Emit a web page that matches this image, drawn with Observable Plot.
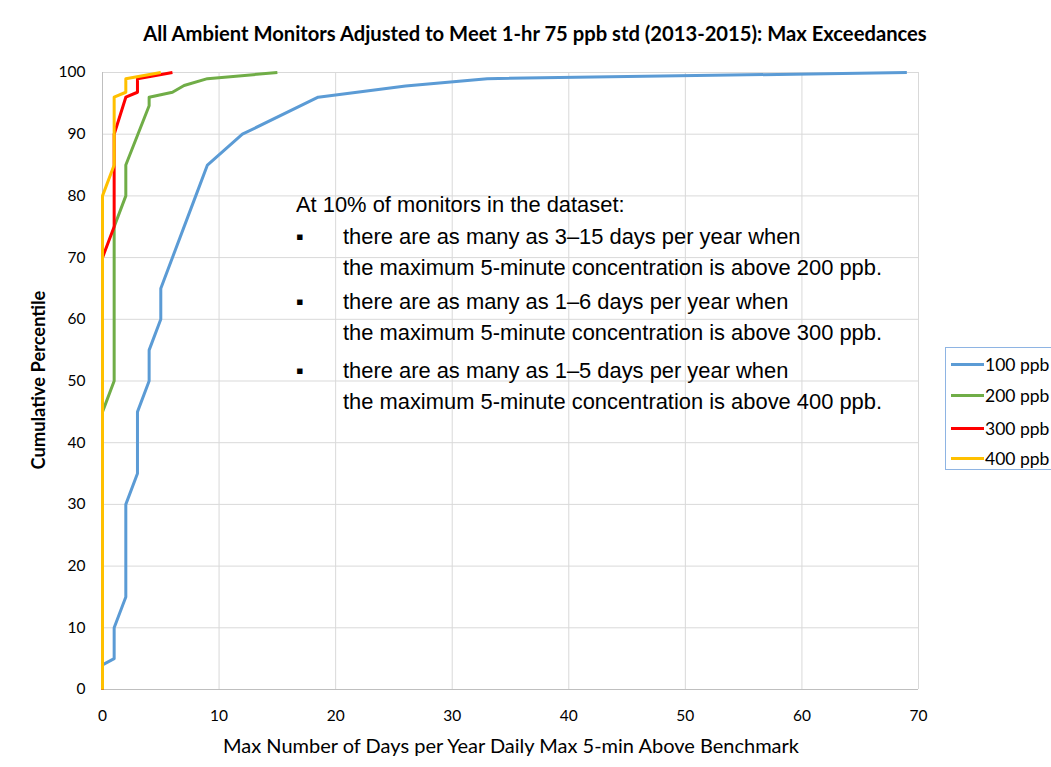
<!DOCTYPE html>
<html>
<head>
<meta charset="utf-8">
<script src="https://cdn.jsdelivr.net/npm/d3@7"></script>
<script src="https://cdn.jsdelivr.net/npm/@observablehq/plot@0.6"></script>
<style>
  html, body { margin: 0; padding: 0; background: #fff; }
  #wrap { position: relative; width: 1051px; height: 767px; overflow: hidden; font-family: Lato, "Open Sans", sans-serif; }
  #wrap svg { position: absolute; left: 0; top: 0; }
  .abs { position: absolute; white-space: nowrap; }
  #title { left: 535px; top: 33px; transform: translate(-50%, -50%); font-weight: bold; font-size: 20.2px; color: #000; }
  #xlabel { left: 511px; top: 745px; transform: translate(-50%, -50%); font-size: 20px; color: #000; }
  #ylabel { left: 38px; top: 380px; transform: translate(-50%, -50%) rotate(-90deg); font-weight: bold; font-size: 18.3px; color: #000; }
  #note { left: 296px; top: 189px; font-family: "Liberation Sans", Arial, sans-serif; font-size: 21.9px; color: #000; line-height: 31.5px; }
  #note .b { position: absolute; left: 0; }
  #note .t { padding-left: 47px; }
  #legend { left: 945px; top: 347px; width: 110px; height: 123px; border: 1px solid #8eb4e3; box-sizing: border-box; background: #fff; }
  #legend .item { position: absolute; left: 5px; height: 20px; display: flex; align-items: center; font-size: 17.5px; }
  #legend .sw { width: 33px; height: 3px; margin-right: 1px; }
</style>
</head>
<body>
<div id="wrap"></div>
<script>
// ---- data ----
const seriesNames = ["100 ppb", "200 ppb", "300 ppb", "400 ppb"];
const seriesColors = ["#5b9bd5", "#70ad47", "#ff0000", "#ffc000"];

const days100 = [0, 0, 1, 1, 2, 2, 3, 3, 4, 4, 5, 5, 8, 9, 12, 18.5, 26, 33, 69];
const pct100  = [0, 4, 5, 10, 15, 30, 35, 45, 50, 55, 60, 65, 80, 85, 90, 96, 97.8, 99, 100];

const days200 = [0, 0, 1, 1, 2, 2, 4, 4, 6, 7, 9, 15];
const pct200  = [0, 45, 50, 75, 80, 85, 94.6, 96, 96.8, 97.9, 99, 100];

const days300 = [0, 0, 1, 1, 2, 3, 3, 6];
const pct300  = [0, 70, 75, 90, 96, 96.8, 99, 100];

const days400 = [0, 0, 1, 1, 2, 2, 5];
const pct400  = [0, 80, 85, 96, 96.8, 99, 100];

const xTicks = [0, 10, 20, 30, 40, 50, 60, 70];
const yTicks = [0, 10, 20, 30, 40, 50, 60, 70, 80, 90, 100];

const titleText = "All Ambient Monitors Adjusted to Meet 1-hr 75 ppb std (2013-2015): Max Exceedances";
const xLabelText = "Max Number of Days per Year Daily Max 5-min Above Benchmark";
const yLabelText = "Cumulative Percentile";
const noteHead = "At 10% of monitors in the dataset:";
const noteBullets = [
  ["there are as many as 3–15 days per year when", "the maximum 5-minute concentration is above 200 ppb."],
  ["there are as many as 1–6 days per year when", "the maximum 5-minute concentration is above 300 ppb."],
  ["there are as many as 1–5 days per year when", "the maximum 5-minute concentration is above 400 ppb."]
];

// ---- build table ----
const allDays = [days100, days200, days300, days400];
const allPct = [pct100, pct200, pct300, pct400];
const rows = [];
seriesNames.forEach((s, i) => {
  allDays[i].forEach((d, j) => rows.push({series: s, days: d, pct: allPct[i][j]}));
});

const chart = Plot.plot({
  width: 1051,
  height: 767,
  marginLeft: 102,
  marginRight: 133,
  marginTop: 72,
  marginBottom: 78,
  style: {fontFamily: "Lato, 'Open Sans', sans-serif", fontSize: "15.5px", color: "#000", background: "transparent"},
  x: {domain: [0, 70], label: null},
  y: {domain: [0, 100], label: null},
  color: {domain: seriesNames, range: seriesColors},
  marks: [
    Plot.gridX(xTicks, {stroke: "#d9d9d9", strokeOpacity: 1}),
    Plot.gridY(yTicks, {stroke: "#d9d9d9", strokeOpacity: 1}),
    Plot.ruleX([0], {stroke: "#bfbfbf"}),
    Plot.ruleY([0], {stroke: "#bfbfbf"}),
    Plot.axisX(xTicks, {tickSize: 0, tickPadding: 20, fill: "#000"}),
    Plot.axisY(yTicks, {tickSize: 0, tickPadding: 17, fill: "#000"}),
    Plot.line(rows, {x: "days", y: "pct", z: "series", stroke: "series", strokeWidth: 3, strokeLinejoin: "round", strokeLinecap: "butt"})
  ]
});

const wrap = document.getElementById("wrap");
wrap.appendChild(chart);

function addDiv(id, text) {
  const d = document.createElement("div");
  d.id = id; d.className = "abs"; d.textContent = text;
  wrap.appendChild(d);
  return d;
}
addDiv("title", titleText);
addDiv("xlabel", xLabelText);
addDiv("ylabel", yLabelText);

// annotation
const note = document.createElement("div");
note.id = "note"; note.className = "abs";
const head = document.createElement("div");
head.textContent = noteHead;
note.appendChild(head);
noteBullets.forEach((lines, i) => {
  const p = document.createElement("div");
  p.style.position = "relative";
  p.style.marginTop = (i === 0 ? 0 : (i === 1 ? 2 : 6)) + "px";
  const b = document.createElement("span");
  b.className = "b"; b.textContent = "▪";
  p.appendChild(b);
  lines.forEach(l => {
    const t = document.createElement("div");
    t.className = "t"; t.textContent = l;
    p.appendChild(t);
  });
  note.appendChild(p);
});
wrap.appendChild(note);

// legend
const legend = document.createElement("div");
legend.id = "legend"; legend.className = "abs";
const itemTops = [6, 37, 70, 100];
seriesNames.forEach((s, i) => {
  const it = document.createElement("div");
  it.className = "item";
  it.style.top = itemTops[i] + "px";
  const sw = document.createElement("span");
  sw.className = "sw"; sw.style.background = seriesColors[i];
  const tx = document.createElement("span");
  tx.textContent = s;
  it.appendChild(sw); it.appendChild(tx);
  legend.appendChild(it);
});
wrap.appendChild(legend);
</script>
</body>
</html>
